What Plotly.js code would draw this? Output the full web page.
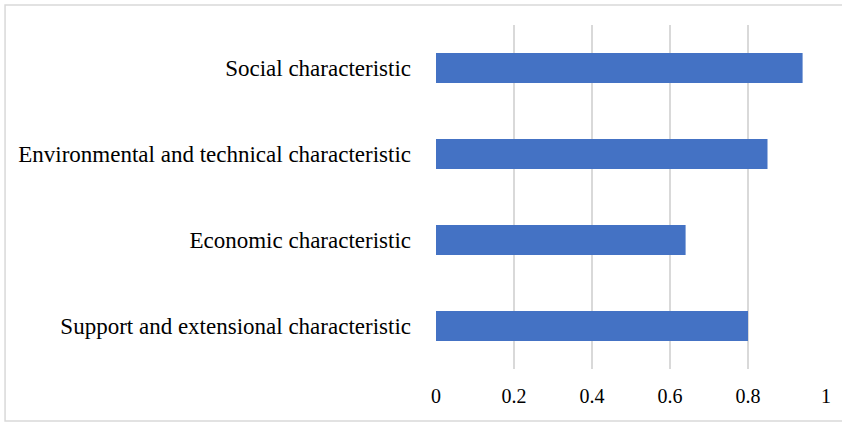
<!DOCTYPE html>
<html>
<head>
<meta charset="utf-8">
<script src="https://cdn.plot.ly/plotly-3.0.1.min.js"></script>
<style>
html,body{margin:0;padding:0;background:#fff;}
#chart{width:842px;height:423px;}
</style>
</head>
<body>
<div id="chart"></div>
<script>
const categories = [
  "Support and extensional characteristic",
  "Economic characteristic",
  "Environmental and technical characteristic",
  "Social characteristic"
];
const values = [0.80, 0.64, 0.85, 0.94];
const xTickVals = [0, 0.2, 0.4, 0.6, 0.8, 1];
const xTickText = ["0", "0.2", "0.4", "0.6", "0.8", "1"];

const serif = "'Liberation Serif', 'Times New Roman', serif";

const trace = {
  type: "bar",
  orientation: "h",
  y: categories,
  x: values,
  marker: {color: "#4472C4"},
  hoverinfo: "x+y"
};

const layout = {
  width: 842,
  height: 423,
  margin: {l: 436, r: 16, t: 25, b: 54},
  paper_bgcolor: "#ffffff",
  plot_bgcolor: "#ffffff",
  showlegend: false,
  bargap: 0.65,
  font: {family: serif, color: "#000000"},
  xaxis: {
    range: [0, 1],
    tickvals: xTickVals,
    ticktext: xTickText,
    showgrid: true,
    gridcolor: "#d9d9d9",
    gridwidth: 1.5,
    zeroline: false,
    showline: false,
    ticks: "",
    ticklabelstandoff: 13,
    tickfont: {size: 20, family: serif, color: "#000000"},
    fixedrange: true
  },
  yaxis: {
    type: "category",
    showgrid: false,
    zeroline: false,
    showline: false,
    ticks: "",
    ticklabelstandoff: 24,
    tickfont: {size: 23, family: serif, color: "#000000"},
    fixedrange: true
  },
  shapes: [{
    type: "rect",
    xref: "paper", yref: "paper",
    x0: -1.105, x1: 1.2,
    y0: -0.151, y1: 1.058,
    line: {color: "#d9d9d9", width: 1.5},
    fillcolor: "rgba(0,0,0,0)",
    layer: "below"
  }]
};

Plotly.newPlot("chart", [trace], layout, {displayModeBar: false, staticPlot: true});
</script>
</body>
</html>
